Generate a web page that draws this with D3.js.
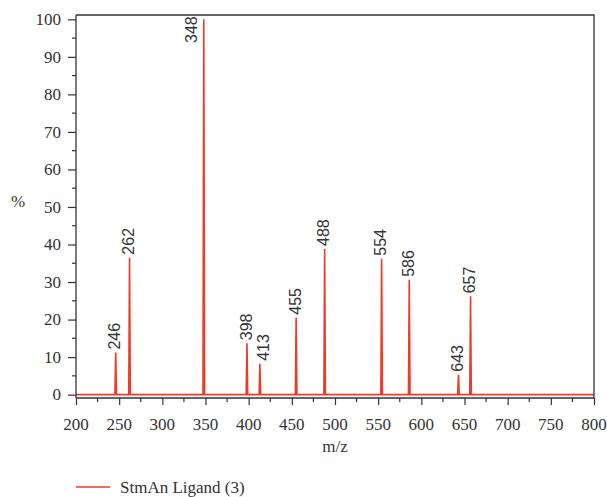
<!DOCTYPE html>
<html><head><meta charset="utf-8">
<script src="https://cdn.jsdelivr.net/npm/d3@7"></script>
<style>body{margin:0;background:#fff}svg{display:block}</style>
</head><body>
<svg id="c" width="607" height="497"></svg>
<script>
const peakMz = [246, 262, 348, 398, 413, 455, 488, 554, 586, 643, 657];
const peakPct = [11.2, 36.5, 100, 13.7, 8.2, 20.5, 38.8, 36.2, 30.6, 5.3, 26.2];
const peakLabels = ["246","262","348","398","413","455","488","554","586","643","657"];
const xTicks = [200,250,300,350,400,450,500,550,600,650,700,750,800];
const yTicks = [0,10,20,30,40,50,60,70,80,90,100];
const seriesName = "StmAn Ligand (3)";

const svg = d3.select("#c");
const L = 76, R = 594, T = 15, B = 398;
const x = d3.scaleLinear().domain([200, 800]).range([L, R]);
const y = d3.scaleLinear().domain([-0.9, 101.15]).range([B, T]);
const red = "#ee3a26", ink = "#333";
const serif = "Liberation Serif";
const sans = "Liberation Sans";

// spectrum path
const pts = [[200, 0]];
peakMz.forEach((m, i) => { pts.push([m - 0.9, 0], [m, peakPct[i]], [m + 0.9, 0]); });
pts.push([800, 0]);
svg.append("path").attr("d", d3.line().x(d => x(d[0])).y(d => y(d[1]))(pts))
  .attr("fill", "none").attr("stroke", red).attr("stroke-width", 1.6);

// frame top/right
svg.append("path").attr("d", `M${L},${T}H${R}V${B}`).attr("fill","none").attr("stroke", ink).attr("stroke-width", 1.3);

// x axis (ticks via d3 axis, labels drawn as serif text)
const xMinor = d3.range(225, 800, 50);
const gx = svg.append("g").attr("transform", `translate(0,${B})`)
  .call(d3.axisBottom(x).tickValues(xTicks).tickSize(7).tickFormat(""));
svg.append("g").selectAll("text").data(xTicks).join("text")
  .attr("x", d => x(d)).attr("y", 430).attr("text-anchor", "middle")
  .attr("font-family", serif).attr("font-size", 17).attr("fill", ink).text(d => d);
svg.append("g").attr("transform", `translate(0,${B})`).selectAll("line").data(xMinor).join("line")
  .attr("x1", d => x(d)).attr("x2", d => x(d)).attr("y1", 0).attr("y2", 4).attr("stroke", ink).attr("stroke-width", 1.2);

// y axis
const yMinor = d3.range(5, 100, 10);
const gy = svg.append("g").attr("transform", `translate(${L},0)`)
  .call(d3.axisLeft(y).tickValues(yTicks).tickSize(8).tickFormat(""));
svg.append("g").selectAll("text").data(yTicks).join("text")
  .attr("x", 61).attr("y", d => y(d)).attr("dy", "0.34em").attr("text-anchor", "end")
  .attr("font-family", serif).attr("font-size", 17).attr("fill", ink).text(d => d);
svg.append("g").attr("transform", `translate(${L},0)`).selectAll("line").data(yMinor).join("line")
  .attr("x1", -4).attr("x2", 0).attr("y1", d => y(d)).attr("y2", d => y(d)).attr("stroke", ink).attr("stroke-width", 1.2);

[gx, gy].forEach(g => {
  g.select(".domain").attr("stroke", ink).attr("stroke-width", 1.3);
  g.selectAll(".tick line").attr("stroke", ink).attr("stroke-width", 1.2);
});
gx.select(".domain").attr("d", `M${L},0H${R}`);
gy.select(".domain").attr("d", `M0,${T}V${B}`);

// axis titles
svg.append("text").attr("x", 18).attr("y", 207).attr("text-anchor","middle").attr("fill", ink)
  .attr("font-family", serif).attr("font-size", 17).text("%");
svg.append("text").attr("x", (L+R)/2).attr("y", 452).attr("text-anchor","middle").attr("fill", ink)
  .attr("font-family", serif).attr("font-size", 17).text("m/z");

// peak labels
peakMz.forEach((m, i) => {
  let px = x(m), py = y(peakPct[i]) - 3, dx = 0;
  if (py - 30 < T) { px = x(m) - 12; py = T + 28; }
  if (peakLabels[i] === "413") dx = 4;
  svg.append("text")
    .attr("transform", `translate(${px + dx - 1},${py}) rotate(-90)`)
    .attr("text-anchor", "start").attr("dy", "0.36em").attr("fill", ink)
    .attr("font-family", sans).attr("font-size", 16).text(peakLabels[i]);
});

// legend
svg.append("line").attr("x1", 76).attr("x2", 110).attr("y1", 487).attr("y2", 487).attr("stroke", red).attr("stroke-width", 1.4);
svg.append("text").attr("x", 120).attr("y", 493).attr("fill", ink)
  .attr("font-family", serif).attr("font-size", 17).text(seriesName);
</script>
</body></html>
